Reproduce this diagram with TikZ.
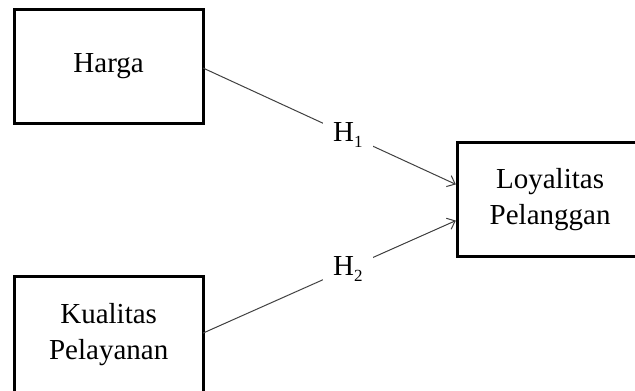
\documentclass[tikz,border=0pt]{standalone}
\usepackage{fontspec}
\setmainfont{Liberation Serif}
\usetikzlibrary{arrows.meta}
\begin{document}
\begin{tikzpicture}[x=1pt,y=-1pt,
 box/.style={draw=black, line width=3pt, rectangle, outer sep=0pt, inner sep=0pt, align=center, font=\fontsize{29}{36}\selectfont},
 conn/.style={draw=black!75, line width=1pt, shorten >=1.5pt, -{Straight Barb[length=7pt,width=12pt]}},
 hlabel/.style={fill=white, inner xsep=10pt, inner ysep=2pt, font=\fontsize{29}{30}\selectfont}]
\useasboundingbox (0,0) rectangle (635,391);
\begin{scope}
\clip (0,0) rectangle (635,391);
\node[box, minimum width=188.7pt, minimum height=113.6pt] (harga) at (108.65,66.5) {Harga};
\node[box, minimum width=188.7pt, minimum height=115.8pt] (kualitas) at (108.65,334.1) {Kualitas\\Pelayanan};
\node[box, minimum width=185.8pt, minimum height=114.4pt] (loyal) at (550.1,199.5) {Loyalitas\\Pelanggan};
\draw[conn] ([yshift=-1.5pt]harga.east) -- node[hlabel, pos=0.57] (h1) {H{\fontsize{17}{17}\selectfont\raisebox{-6pt}{1}}} ([yshift=14.5pt]loyal.west);
\draw[conn] ([yshift=1pt]kualitas.east) -- node[hlabel, pos=0.57] (h2) {H{\fontsize{17}{17}\selectfont\raisebox{-6pt}{2}}} ([yshift=-20.5pt]loyal.west);
\end{scope}
\end{tikzpicture}
\end{document}
